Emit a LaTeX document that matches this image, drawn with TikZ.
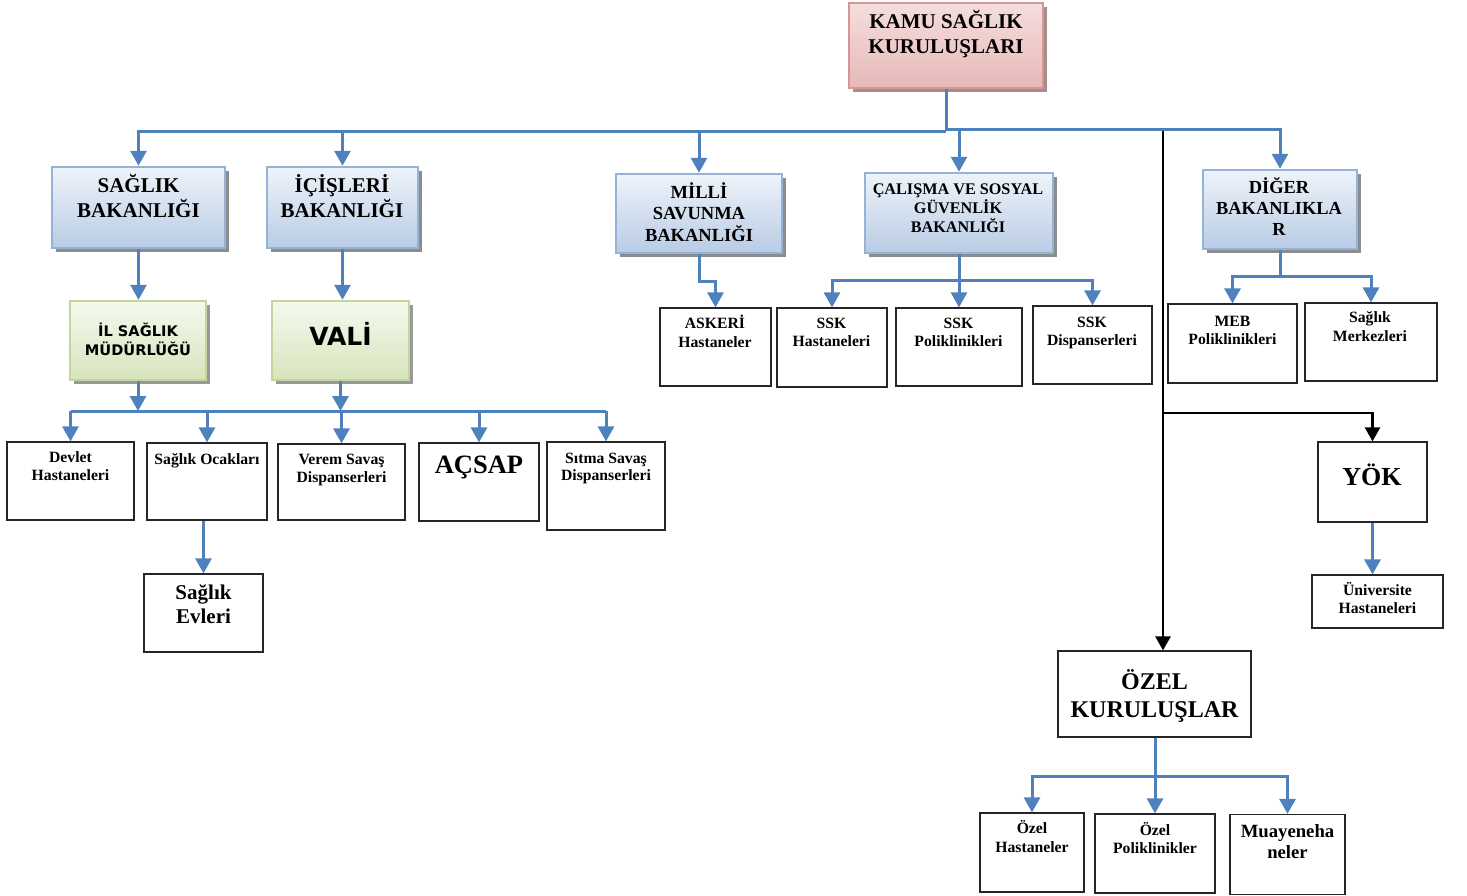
\documentclass[tikz,border=0pt]{standalone}
\usepackage{fontspec}
\setmainfont{Liberation Serif}
\newfontfamily\vsans{DejaVu Sans}
\usetikzlibrary{arrows.meta,shadows,calc}
\definecolor{lnblue}{HTML}{4F81BD}
\definecolor{bbord}{HTML}{95B3D7}
\definecolor{btop}{HTML}{EEF3FA}
\definecolor{bbot}{HTML}{B8CCE4}
\definecolor{pbord}{HTML}{D99594}
\definecolor{ptop}{HTML}{F4DEDD}
\definecolor{pbot}{HTML}{E6B9B8}
\definecolor{gbord}{HTML}{C3D69B}
\definecolor{gtop}{HTML}{F5F9EE}
\definecolor{gbot}{HTML}{D7E4BD}
\newcommand\fsz[2]{\fontsize{#1}{#2}\selectfont}
\tikzset{
  basebox/.style={rectangle, inner sep=0pt},
  bluebox/.style={basebox, draw=bbord, line width=2.5pt, top color=btop, bottom color=bbot,
    drop shadow={shadow xshift=4pt, shadow yshift=-4pt, fill=black!45, opacity=1}},
  pinkbox/.style={basebox, draw=pbord, line width=2.5pt, top color=ptop, bottom color=pbot,
    drop shadow={shadow xshift=4pt, shadow yshift=-4pt, fill=pbord!60!black!70, opacity=1}},
  greenbox/.style={basebox, draw=gbord, line width=2.5pt, top color=gtop, bottom color=gbot,
    drop shadow={shadow xshift=4pt, shadow yshift=-4pt, fill=black!40, opacity=1}},
  whitebox/.style={basebox, draw=black!85, line width=1.2pt, fill=white},
  txt/.style 2 args={anchor=base, align=center, inner sep=0pt, font=\bfseries\fsz{#1}{#2}},
  stxt/.style 2 args={anchor=base, align=center, inner sep=0pt, font=\vsans\bfseries\fsz{#1}{#2}},
  bl/.style={draw=lnblue, line width=3pt},
  bla/.style={bl, -{Triangle[width=16pt,length=15pt]}},
  kla/.style={draw=black, line width=2.5pt, -{Triangle[width=15pt,length=14pt]}},
  kl/.style={draw=black, line width=2.5pt}
}
\begin{document}
\begin{tikzpicture}[x=1pt,y=-1pt]
\useasboundingbox (0,0) rectangle (1467,895);
% gradient boxes
\node[pinkbox, minimum width=194pt, minimum height=85pt] (kamu) at (946,45.5) {};
\node[bluebox, minimum width=173pt, minimum height=81pt] (sb) at (138.5,207.5) {};
\node[bluebox, minimum width=151pt, minimum height=81pt] (ic) at (342.5,207.5) {};
\node[bluebox, minimum width=166pt, minimum height=79pt] (msb) at (699,213.5) {};
\node[bluebox, minimum width=188pt, minimum height=80pt] (csgb) at (959,213) {};
\node[bluebox, minimum width=154pt, minimum height=79pt] (diger) at (1280,209.5) {};
\node[greenbox, minimum width=136pt, minimum height=79pt] (il) at (138,340.5) {};
\node[greenbox, minimum width=137pt, minimum height=79pt] (vali) at (340.5,340.5) {};
% white boxes
\node[whitebox, minimum width=111pt, minimum height=78pt] (askeri) at (715.5,347) {};
\node[whitebox, minimum width=110pt, minimum height=79pt] (sskh) at (832,347.5) {};
\node[whitebox, minimum width=126pt, minimum height=78pt] (sskp) at (959,347) {};
\node[whitebox, minimum width=119pt, minimum height=78pt] (sskd) at (1092.5,345) {};
\node[whitebox, minimum width=129pt, minimum height=79pt] (meb) at (1232.5,343.5) {};
\node[whitebox, minimum width=132pt, minimum height=78pt] (smerk) at (1371,342) {};
\node[whitebox, minimum width=127pt, minimum height=78pt] (devlet) at (70.5,481) {};
\node[whitebox, minimum width=120pt, minimum height=77pt] (soc) at (207,481.5) {};
\node[whitebox, minimum width=127pt, minimum height=76pt] (verem) at (341.5,482) {};
\node[whitebox, minimum width=120pt, minimum height=78pt] (acsap) at (479,482) {};
\node[whitebox, minimum width=118pt, minimum height=88pt] (sitma) at (606,486) {};
\node[whitebox, minimum width=119pt, minimum height=78pt] (sevleri) at (203.5,613) {};
\node[whitebox, minimum width=109pt, minimum height=80pt] (yok) at (1372.5,482) {};
\node[whitebox, minimum width=131pt, minimum height=53pt] (univ) at (1377.5,601.5) {};
\node[whitebox, minimum width=193pt, minimum height=86pt] (ozel) at (1154.5,694) {};
\node[whitebox, minimum width=104pt, minimum height=79pt] (ohast) at (1032,852.5) {};
\node[whitebox, minimum width=120pt, minimum height=79pt] (opoli) at (1155,853.5) {};
\node[whitebox, minimum width=115pt, minimum height=80pt] (muay) at (1287.5,854.5) {};
% texts (anchor base = baseline of last line)
\node[txt={21}{25}] (kamu-t) at (946,53) {KAMU SAĞLIK\\KURULUŞLARI};
\node[txt={21}{25}] (sb-t) at (138.5,217) {SAĞLIK\\BAKANLIĞI};
\node[txt={21}{25}] (ic-t) at (342,217) {İÇİŞLERİ\\BAKANLIĞI};
\node[txt={18.5}{21.5}] (msb-t) at (699,241) {MİLLİ\\SAVUNMA\\BAKANLIĞI};
\node[txt={16.2}{18.7}] (csgb-t) at (958,232) {ÇALIŞMA VE SOSYAL\\GÜVENLİK\\BAKANLIĞI};
\node[txt={18.4}{21}] (diger-t) at (1279,235.5) {DİĞER\\BAKANLIKLA\\R};
\node[stxt={14.6}{19.5}] (il-t) at (138,355.5) {İL SAĞLIK\\MÜDÜRLÜĞÜ};
\node[stxt={25}{30}] (vali-t) at (340.5,345) {VALİ};
\node[txt={15.7}{18.5}] (askeri-t) at (715,347) {ASKERİ\\Hastaneler};
\node[txt={15.7}{18.5}] (sskh-t) at (831.5,346.5) {SSK\\Hastaneleri};
\node[txt={15.7}{18.5}] (sskp-t) at (958.5,346.5) {SSK\\Poliklinikleri};
\node[txt={15.7}{18.5}] (sskd-t) at (1092,345.5) {SSK\\Dispanserleri};
\node[txt={15.7}{18}] (meb-t) at (1232.5,344) {MEB\\Poliklinikleri};
\node[txt={15.7}{19}] (smerk-t) at (1370,341.5) {Sağlık\\Merkezleri};
\node[txt={15.7}{18.5}] (devlet-t) at (70.5,480.5) {Devlet\\Hastaneleri};
\node[txt={15.7}{18.5}] (soc-t) at (207,464) {Sağlık Ocakları};
\node[txt={15.7}{18}] (verem-t) at (341.5,482) {Verem Savaş\\Dispanserleri};
\node[txt={26.5}{30}] (acsap-t) at (479,473) {AÇSAP};
\node[txt={15.7}{17.5}] (sitma-t) at (606,480.5) {Sıtma Savaş\\Dispanserleri};
\node[txt={21}{24.5}] (sevleri-t) at (203.5,623.5) {Sağlık\\Evleri};
\node[txt={26}{30}] (yok-t) at (1372,485) {YÖK};
\node[txt={15.7}{18}] (univ-t) at (1377.5,613) {Üniversite\\Hastaneleri};
\node[txt={24}{28}] (ozel-t) at (1154.5,717) {ÖZEL\\KURULUŞLAR};
\node[txt={15.7}{19}] (ohast-t) at (1032,852) {Özel\\Hastaneler};
\node[txt={15.7}{18}] (opoli-t) at (1155,853) {Özel\\Poliklinikler};
\node[txt={18.7}{21.5}] (muay-t) at (1287.5,858.5) {Muayeneha\\neler};
% top connectors
\coordinate (busL) at (946,131);
\coordinate (busR) at (946,129);
\draw[bl] (kamu.south) -- (busL);
\draw[bla] (busL) -| (sb.north);
\draw[bla] (busL) -| (ic.north);
\draw[bla] (busL) -| (msb.north);
\draw[bla] (busR) -| (csgb.north);
\draw[bla] (busR) -| (diger.north);
% black connectors
\coordinate (bk) at (1163,131);
\coordinate (bk2) at (1163,413);
\draw[kla] (bk) -- (bk |- ozel.north);
\draw[kla] (bk2) -| (yok.north);
% left side
\draw[bla] (sb.south) -- (sb.south |- il.north);
\draw[bla] (ic.south) -- (ic.south |- vali.north);
\coordinate (bus2) at (0,411);
\draw[bla] (il.south) -- (il.south |- bus2);
\draw[bla] (vali.south) -- (vali.south |- bus2);
\draw[bl] (devlet.north |- bus2) -- (sitma.north |- bus2);
\draw[bla] (devlet.north |- bus2) -- (devlet.north);
\draw[bla] (soc.north |- bus2) -- (soc.north);
\draw[bla] (verem.north |- bus2) -- (verem.north);
\draw[bla] (acsap.north |- bus2) -- (acsap.north);
\draw[bla] (sitma.north |- bus2) -- (sitma.north);
\draw[bla] (sevleri.north |- soc.south) -- (sevleri.north);
% middle
\draw[bla] (msb.south) -- ++(0,27) -| (askeri.north);
\coordinate (b3) at (959,280);
\draw[bl] (csgb.south) -- (b3);
\draw[bla] (b3) -| (sskh.north);
\draw[bla] (b3) -- (sskp.north);
\draw[bla] (b3) -| (sskd.north);
\coordinate (b4) at (1280,276);
\draw[bl] (diger.south) -- (b4);
\draw[bla] (b4) -| (meb.north);
\draw[bla] (b4) -| (smerk.north);
% right lower
\draw[bla] (yok.south) -- (yok.south |- univ.north);
\coordinate (b5) at (1155,776);
\draw[bl] (ozel.south -| b5) -- (b5);
\draw[bla] (b5) -| (ohast.north);
\draw[bla] (b5) -- (opoli.north);
\draw[bla] (b5) -| (muay.north);
\end{tikzpicture}
\end{document}
